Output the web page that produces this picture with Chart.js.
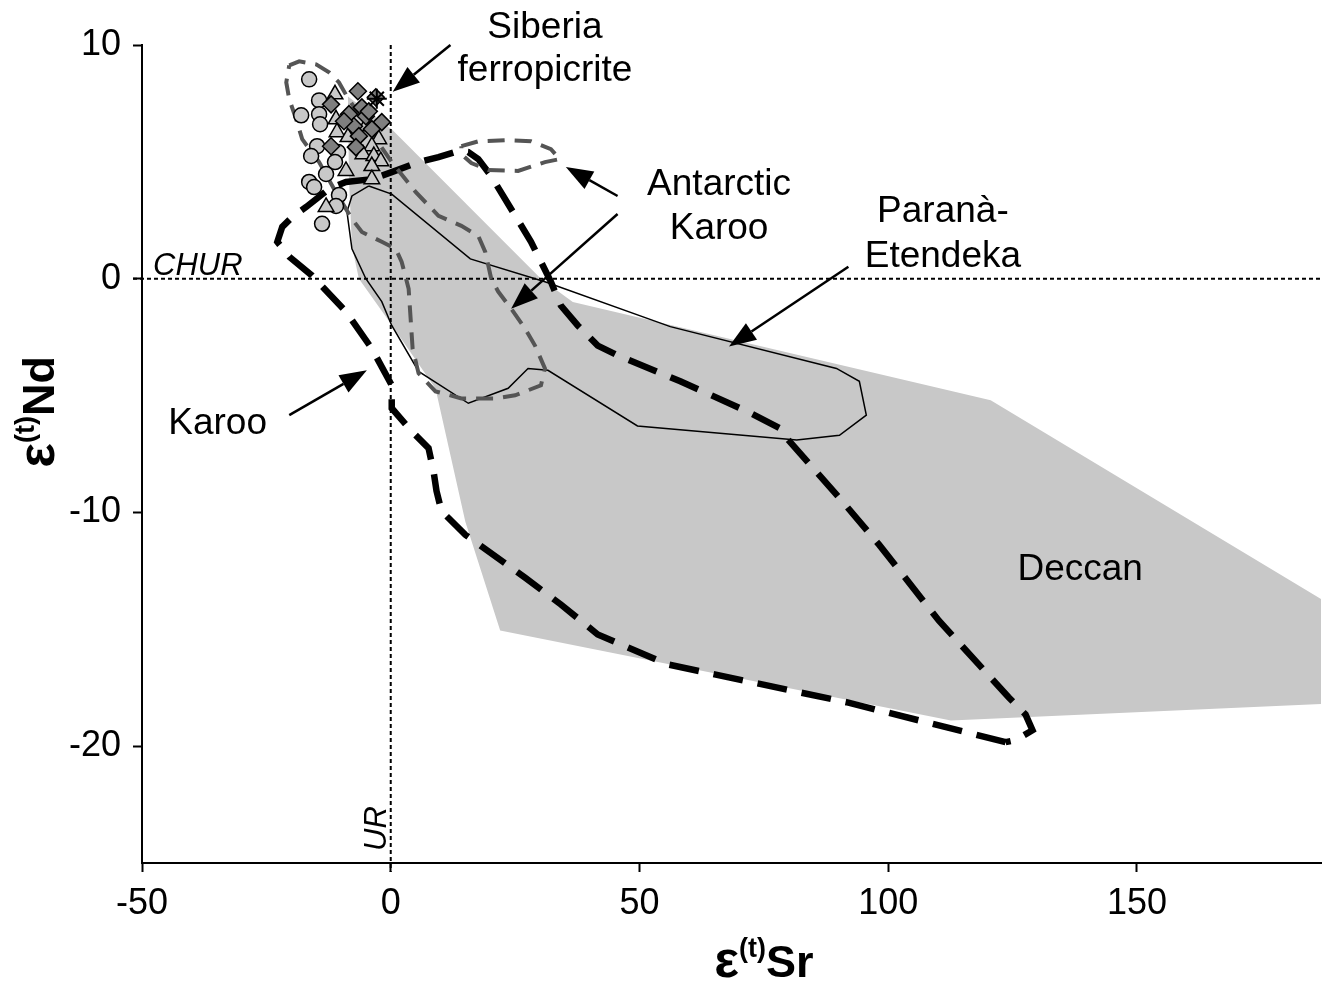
<!DOCTYPE html>
<html>
<head>
<meta charset="utf-8">
<script src="https://cdn.jsdelivr.net/npm/chart.js"></script>
<style>
  html, body { margin: 0; padding: 0; background: #fff; }
  #wrap { width: 1333px; height: 986px; }
</style>
</head>
<body>
<div id="wrap"><canvas id="chart"></canvas></div>
<script>
// axis ticks
const xTicks = [-50, 0, 50, 100, 150];
const yTicks = [-20, -10, 0, 10];

// Deccan field (grey area), [eSr, eNd]
const deccan = [
  [-8.6, 7.8], [0.2, 6.4], [30.2, 0], [36.6, -1.0], [120.6, -5.2], [187, -13.7],
  [187, -18.2], [112.6, -18.9], [22, -15.05], [15, -10.4], [9, -4.7],
  [-0.4, -1.8], [-6.4, 0], [-7.8, 1.4], [-8.4, 4.3]
];

// Paranà-Etendeka (thin solid outline)
const parana = [
  [-4.4, 3.97], [0.2, 3.62], [16, 0.85], [31, -0.13], [56.2, -2.05], [89.6, -3.84],
  [94.2, -4.39], [95.6, -5.84], [90.2, -6.7], [81.6, -6.9], [49.6, -6.3], [31.6, -3.92],
  [27.6, -3.84], [23.6, -4.69], [15.6, -5.33], [5.6, -3.97], [0.2, -2.0], [-1.8, -0.98],
  [-5, 0], [-7.8, 1.28], [-8.8, 2.86], [-7.8, 3.54]
];

// Karoo (heavy black dashes)
const karoo = [
  [123.6, -19.83], [91.6, -18.12], [55.6, -16.5], [41.6, -15.22], [34.2, -13.94],
  [27, -12.79], [15, -10.96], [10.2, -9.94], [9.2, -9.08], [8.6, -8.23], [7.6, -7.25],
  [4.2, -6.52], [0.2, -5.54], [0.2, -4.56], [-3.8, -2.99], [-9, -1.41], [-15.8, 0.13],
  [-20.4, 0.94], [-22.8, 1.58], [-21.8, 2.22], [-19.8, 2.64], [-17, 3.07], [-12.4, 3.84],
  [-9, 4.14], [-3.8, 4.26], [0.2, 4.56], [5.6, 4.99], [9.6, 5.2], [13.6, 5.46],
  [15.6, 5.42], [17.6, 5.12], [20.2, 4.39], [28.2, 1.58], [32.2, -0.13], [34.2, -1.15],
  [37.6, -2.0], [41.6, -2.86], [45.6, -3.28], [58.2, -4.39], [71.6, -5.67], [78.2, -6.4],
  [79.6, -6.82], [90.2, -9.38], [98.2, -11.39], [110.2, -14.63], [124.2, -17.91],
  [127.6, -18.64], [129, -19.32], [125.6, -19.74]
];

// Antarctic Karoo (grey dashes), main field and small field
const antarcticMain = [
  [-20.4, 9.13], [-18.4, 9.3], [-15, 9.17], [-12.4, 8.83], [-10.4, 8.4], [-8.8, 7.8],
  [-4.4, 6.4], [0.2, 4.99], [5, 3.71], [9.6, 2.69], [14.2, 2.26], [17.6, 1.83], [19, 1.15],
  [20.2, 0], [21.6, -0.55], [24.2, -1.28], [27, -2.13], [29, -2.86], [31, -3.84],
  [30.2, -4.56], [25, -4.99], [21, -5.12], [14.2, -5.12], [9, -4.82], [5.6, -4.05],
  [4.4, -2.99], [4, -1.71], [3.6, -0.43], [2.2, 0.72], [1, 1.28], [-1.8, 1.58],
  [-5.8, 2.0], [-7.8, 2.56], [-11.4, 3.84], [-14.4, 4.99], [-17.8, 5.97], [-19, 6.82],
  [-20.4, 7.68], [-21, 8.4]
];
const antarcticSmall = [
  [14.2, 5.67], [17.6, 5.88], [23, 5.93], [28.2, 5.88], [32.2, 5.54], [34, 5.12],
  [31, 4.99], [25.6, 4.61], [19.6, 4.65], [16.2, 4.95], [14.2, 5.33]
];

// Siberian samples
const circles = [
  [-16.4, 8.53], [-14.4, 7.63], [-18, 6.99], [-14.4, 7.04], [-14.2, 6.61], [-14.8, 5.67],
  [-16, 5.25], [-10.6, 5.42], [-11.2, 4.99], [-13, 4.48], [-16.4, 4.14], [-15.4, 3.92],
  [-10.4, 3.58], [-11, 3.11], [-13.8, 2.35]
];
const triangles = [
  [-11.2, 7.89], [-11, 6.82], [-10.8, 6.27], [-8.6, 6.06], [-5, 6.52], [-2.4, 5.97],
  [-3.8, 5.67], [-5.6, 5.33], [-3.4, 5.25], [-2, 5.03], [-3.8, 4.82], [-9, 4.61],
  [-3.8, 4.26], [-13, 3.07]
];
const diamonds = [
  [-6.6, 8.02], [-3, 7.76], [-5.8, 7.33], [-8.4, 7.04], [-5, 6.95], [-1.8, 6.7],
  [-7.4, 6.52], [-3.8, 6.4], [-6.4, 6.1], [-7, 5.63], [-12, 5.67], [-12, 7.46],
  [-9.4, 6.74], [-4.4, 7.16]
];
const ferropicrite = [[-2.8, 7.7]];

// reference lines
const churNd = 0;
const urSr = 0;

const FONT = '"Liberation Sans", Arial, sans-serif';

const pts = (arr) => arr.map(([x, y]) => ({ x, y }));
const closed = (arr) => pts(arr.concat([arr[0]]));

// labels and arrows, positioned in data units
const notes = [
  { text: "Siberia", x: 31, y: 10.75 },
  { text: "ferropicrite", x: 31, y: 8.9 },
  { text: "Antarctic", x: 66, y: 4.0 },
  { text: "Karoo", x: 66, y: 2.13 },
  { text: "Paranà-", x: 111, y: 2.86 },
  { text: "Etendeka", x: 111, y: 0.94 },
  { text: "Karoo", x: -34.8, y: -6.2 },
  { text: "Deccan", x: 138.6, y: -12.45 },
];
const arrows = [
  { from: [12, 10.0], to: [0.4, 8.0] },
  { from: [45.6, 3.54], to: [35.2, 4.78] },
  { from: [45.6, 2.77], to: [24.2, -1.28] },
  { from: [92, 0.51], to: [68, -2.9] },
  { from: [-20.4, -5.84], to: [-4.8, -3.92] },
];

function drawArrow(ctx, x0, y0, x1, y1) {
  const ang = Math.atan2(y1 - y0, x1 - x0);
  const len = 27, half = 10;
  const bx = x1 - len * Math.cos(ang);
  const by = y1 - len * Math.sin(ang);
  ctx.beginPath();
  ctx.moveTo(x0, y0);
  ctx.lineTo(bx, by);
  ctx.stroke();
  ctx.beginPath();
  ctx.moveTo(x1, y1);
  ctx.lineTo(bx + half * Math.sin(ang), by - half * Math.cos(ang));
  ctx.lineTo(bx - half * Math.sin(ang), by + half * Math.cos(ang));
  ctx.closePath();
  ctx.fill();
}

// epsilon(t) title drawn as pieces, centred on 0,0 baseline
function drawEpsTitle(ctx, sub) {
  const parts = [
    { t: "ε", font: "bold 52px " + FONT, dy: 0 },
    { t: "(t)", font: "bold 27px " + FONT, dy: -20 },
    { t: sub, font: "bold 45px " + FONT, dy: 0 },
  ];
  let total = 0;
  parts.forEach((p) => {
    ctx.font = p.font;
    p.w = ctx.measureText(p.t).width;
    total += p.w;
  });
  let x = -total / 2;
  ctx.textAlign = "left";
  ctx.textBaseline = "alphabetic";
  parts.forEach((p) => {
    ctx.font = p.font;
    ctx.fillText(p.t, x, p.dy);
    x += p.w;
  });
}

// dotted CHUR / UR lines, drawn just above the Deccan fill
const refLines = {
  id: "refLines",
  afterDatasetDraw(chart, args) {
    if (args.index !== 0) return;
    const { ctx, chartArea, scales } = chart;
    const y0 = scales.y.getPixelForValue(churNd);
    const x0 = scales.x.getPixelForValue(urSr);
    ctx.save();
    ctx.strokeStyle = "#000";
    ctx.lineWidth = 2;
    ctx.setLineDash([4, 3]);
    ctx.beginPath();
    ctx.moveTo(chartArea.left - 9, y0);
    ctx.lineTo(chartArea.right, y0);
    ctx.moveTo(x0, chartArea.top);
    ctx.lineTo(x0, chartArea.bottom + 9);
    ctx.stroke();
    ctx.restore();
  },
};

const annotations = {
  id: "annotations",
  afterDraw(chart) {
    const { ctx, chartArea, scales } = chart;
    const px = (v) => scales.x.getPixelForValue(v);
    const py = (v) => scales.y.getPixelForValue(v);
    ctx.save();
    ctx.fillStyle = "#000";
    ctx.strokeStyle = "#000";

    // region names
    ctx.font = "37px " + FONT;
    ctx.textAlign = "center";
    ctx.textBaseline = "middle";
    notes.forEach((n) => ctx.fillText(n.text, px(n.x), py(n.y)));

    // arrows
    ctx.lineWidth = 2.5;
    arrows.forEach((a) =>
      drawArrow(ctx, px(a.from[0]), py(a.from[1]), px(a.to[0]), py(a.to[1]))
    );

    // CHUR and UR
    ctx.font = "italic 31px " + FONT;
    ctx.textAlign = "left";
    ctx.textBaseline = "alphabetic";
    ctx.fillText("CHUR", chartArea.left + 11, py(churNd) - 4);
    ctx.save();
    ctx.translate(px(urSr) - 5, chartArea.bottom - 12);
    ctx.rotate(-Math.PI / 2);
    ctx.fillText("UR", 0, 0);
    ctx.restore();

    // axis titles
    ctx.save();
    ctx.translate(px(75), 977);
    drawEpsTitle(ctx, "Sr");
    ctx.restore();
    ctx.save();
    ctx.translate(54, py(-5.7));
    ctx.rotate(-Math.PI / 2);
    drawEpsTitle(ctx, "Nd");
    ctx.restore();

    ctx.restore();
  },
};

const tickFont = { family: FONT, size: 36 };

new Chart(document.getElementById("chart"), {
  type: "scatter",
  data: {
    datasets: [
      {
        type: "line",
        label: "Deccan",
        data: closed(deccan),
        fill: "shape",
        backgroundColor: "#c8c8c8",
        borderColor: "rgba(0,0,0,0)",
        borderWidth: 0,
        pointRadius: 0,
        order: 10,
      },
      {
        type: "line",
        label: "Paranà-Etendeka",
        data: closed(parana),
        fill: false,
        borderColor: "#000",
        borderWidth: 1.5,
        pointRadius: 0,
        order: 9,
      },
      {
        type: "line",
        label: "Antarctic Karoo",
        data: closed(antarcticMain),
        fill: false,
        borderColor: "#555",
        borderWidth: 4,
        borderDash: [17, 10],
        pointRadius: 0,
        order: 7,
      },
      {
        type: "line",
        label: "Antarctic Karoo small",
        data: closed(antarcticSmall),
        fill: false,
        borderColor: "#555",
        borderWidth: 4,
        borderDash: [17, 10],
        pointRadius: 0,
        order: 7,
      },
      {
        type: "line",
        label: "Karoo",
        data: closed(karoo),
        fill: false,
        borderColor: "#000",
        borderWidth: 6.5,
        borderDash: [30, 15],
        pointRadius: 0,
        order: 8,
      },
      {
        label: "circles",
        data: pts(circles),
        pointStyle: "circle",
        pointRadius: 7.5,
        backgroundColor: "#c8c8c8",
        borderColor: "#000",
        borderWidth: 1.5,
        order: 4,
      },
      {
        label: "triangles",
        data: pts(triangles),
        pointStyle: "triangle",
        pointRadius: 9,
        backgroundColor: "#c8c8c8",
        borderColor: "#000",
        borderWidth: 1.5,
        order: 3,
      },
      {
        label: "diamonds",
        data: pts(diamonds),
        pointStyle: "rectRot",
        pointRadius: 8.5,
        backgroundColor: "#7f7f7f",
        borderColor: "#000",
        borderWidth: 1.5,
        order: 2,
      },
      {
        label: "Siberia ferropicrite",
        data: pts(ferropicrite),
        pointStyle: "star",
        pointRadius: 10,
        borderColor: "#000",
        borderWidth: 2,
        order: 1,
      },
    ],
  },
  options: {
    responsive: true,
    maintainAspectRatio: false,
    animation: false,
    devicePixelRatio: 1,
    events: [],
    layout: { padding: { top: 45, right: 6, left: 0, bottom: 0 } },
    plugins: {
      legend: { display: false },
      tooltip: { enabled: false },
    },
    scales: {
      x: {
        type: "linear",
        min: -50,
        max: 187,
        afterBuildTicks: (axis) => {
          axis.ticks = xTicks.map((v) => ({ value: v }));
        },
        afterFit: (axis) => {
          axis.height = 123;
        },
        ticks: { font: tickFont, color: "#000", padding: 10 },
        grid: {
          drawOnChartArea: false,
          drawTicks: true,
          tickLength: 9,
          tickWidth: 2,
          color: "#000",
        },
        border: { display: true, color: "#000", width: 2 },
      },
      y: {
        type: "linear",
        min: -25,
        max: 10,
        afterBuildTicks: (axis) => {
          axis.ticks = yTicks.map((v) => ({ value: v }));
        },
        afterFit: (axis) => {
          axis.width = 142;
        },
        ticks: { font: tickFont, color: "#000", padding: 12 },
        grid: {
          drawOnChartArea: false,
          drawTicks: true,
          tickLength: 9,
          tickWidth: 2,
          color: "#000",
        },
        border: { display: true, color: "#000", width: 2 },
      },
    },
  },
  plugins: [refLines, annotations],
});
</script>
</body>
</html>
